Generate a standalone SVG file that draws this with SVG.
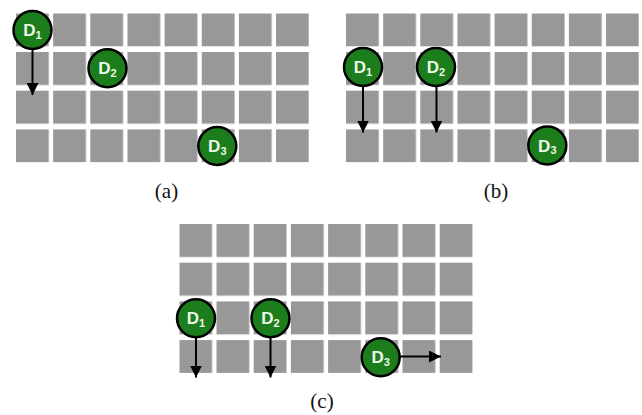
<svg xmlns="http://www.w3.org/2000/svg" width="642" height="415" viewBox="0 0 642 415">
<style>
.node circle{fill:#1b7d1b;stroke:#000;stroke-width:2.5}
.node text{font-weight:bold;font-size:17px;fill:#eef7e8;text-anchor:middle}
.node tspan.s{font-size:11px}
.conn line{stroke:#000;stroke-width:2}
.cap{font-size:21px;fill:#111;text-anchor:middle}
</style>
<defs>
<marker id="ah" markerUnits="userSpaceOnUse" markerWidth="12" markerHeight="12" viewBox="0 0 10 10" refX="10" refY="5" orient="auto">
<path d="M0,0 L10,5 L0,10 Z" fill="#000"/>
</marker>
<pattern id="gA" patternUnits="userSpaceOnUse" x="16" y="13.3" width="37.15" height="38.7"><rect width="32.8" height="33" fill="#989898"/></pattern>
<pattern id="gB" patternUnits="userSpaceOnUse" x="346" y="13.3" width="37.15" height="38.7"><rect width="32.8" height="33" fill="#989898"/></pattern>
<pattern id="gC" patternUnits="userSpaceOnUse" x="179.3" y="224" width="37.2" height="38.7"><rect width="32.8" height="33" fill="#989898"/></pattern>
</defs>
<rect width="642" height="415" fill="#fff"/>
<g id="gridA"><rect x="16" y="13.3" width="293" height="149" fill="url(#gA)"/></g>
<g id="gridB"><rect x="346" y="13.3" width="293" height="149" fill="url(#gB)"/></g>
<g id="gridC"><rect x="179.3" y="224" width="293.5" height="149" fill="url(#gC)"/></g>
<g class="conn" id="connectors">
<line x1="32.5" y1="50" x2="32.5" y2="95" marker-end="url(#ah)"/>
<line x1="363" y1="87" x2="363" y2="132.5" marker-end="url(#ah)"/>
<line x1="436.5" y1="87" x2="436.5" y2="132.5" marker-end="url(#ah)"/>
<line x1="196" y1="338" x2="196" y2="377.5" marker-end="url(#ah)"/>
<line x1="270.5" y1="338" x2="270.5" y2="377.5" marker-end="url(#ah)"/>
<line x1="400" y1="356.5" x2="441" y2="356.5" marker-end="url(#ah)"/>
</g>
<g font-family="Liberation Sans, Arial, sans-serif">
<g class="node" id="a-D1"><circle cx="32.5" cy="30" r="19"/><text x="32.5" y="36">D<tspan class="s" dy="2.5">1</tspan></text></g>
<g class="node" id="a-D2"><circle cx="107.5" cy="68.3" r="19"/><text x="107.5" y="74.3">D<tspan class="s" dy="2.5">2</tspan></text></g>
<g class="node" id="a-D3"><circle cx="217.3" cy="146" r="19"/><text x="217.3" y="152">D<tspan class="s" dy="2.5">3</tspan></text></g>
<g class="node" id="b-D1"><circle cx="363" cy="67" r="19"/><text x="363" y="73">D<tspan class="s" dy="2.5">1</tspan></text></g>
<g class="node" id="b-D2"><circle cx="436" cy="67" r="19"/><text x="436" y="73">D<tspan class="s" dy="2.5">2</tspan></text></g>
<g class="node" id="b-D3"><circle cx="547.3" cy="145.5" r="19"/><text x="547.3" y="151.5">D<tspan class="s" dy="2.5">3</tspan></text></g>
<g class="node" id="c-D1"><circle cx="196" cy="318.3" r="19"/><text x="196" y="324.3">D<tspan class="s" dy="2.5">1</tspan></text></g>
<g class="node" id="c-D2"><circle cx="270.5" cy="318.3" r="19"/><text x="270.5" y="324.3">D<tspan class="s" dy="2.5">2</tspan></text></g>
<g class="node" id="c-D3"><circle cx="380.7" cy="357.3" r="19"/><text x="380.7" y="363.3">D<tspan class="s" dy="2.5">3</tspan></text></g>
</g>
<g font-family="Liberation Serif, Times New Roman, serif">
<text class="cap" x="166.5" y="198">(a)</text>
<text class="cap" x="496" y="198">(b)</text>
<text class="cap" x="322" y="408">(c)</text>
</g>
</svg>
